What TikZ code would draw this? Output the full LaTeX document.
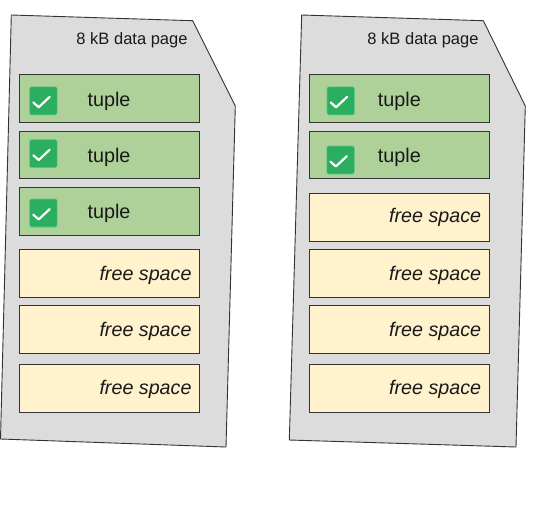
\documentclass[tikz,border=0pt]{standalone}
\usepackage{fontspec}
\setmainfont{Liberation Sans}
\usetikzlibrary{calc}
\definecolor{pagegray}{HTML}{DCDCDC}
\definecolor{tuplegreen}{HTML}{AED19A}
\definecolor{freeyellow}{HTML}{FFF2CC}
\definecolor{checkgreen}{HTML}{2BAE60}
\definecolor{checkborder}{HTML}{5CC98A}
\definecolor{edgegray}{HTML}{333333}
\tikzset{
  x=1pt, y=-1pt,
  pageshape/.style={fill=pagegray, draw=edgegray, line width=0.9pt, line join=miter},
  tuplebox/.style={fill=tuplegreen, draw=edgegray, line width=0.9pt, anchor=north west, inner sep=0pt},
  freebox/.style={fill=freeyellow, draw=edgegray, line width=0.9pt, anchor=north west, inner sep=0pt},
  checkbox/.style={fill=checkgreen, draw=checkborder, line width=0.6pt, rounded corners=1.5pt},
  checkmark/.style={draw=white, line width=2.2pt, line cap=round, line join=round},
  tupletext/.style={font=\fontsize{19.8}{22}\selectfont, text=black!90, inner sep=0pt, anchor=base west},
  freetext/.style={font=\fontsize{19.7}{22}\selectfont\itshape, text=black!90, inner sep=0pt, anchor=base east},
  pagetext/.style={font=\fontsize{16.5}{19}\selectfont, text=black!90, inner sep=0pt, anchor=base east}
}
\newcommand{\tickbox}[3]{% name, x, y (top-left)
  \node[checkbox, minimum width=27.5pt, minimum height=28pt, inner sep=0pt, anchor=north west] (#1) at (#2,#3) {};
  \draw[checkmark] ($(#1.north west)+(4,16)$) -- ($(#1.north west)+(9.4,20.7)$) -- ($(#1.north west)+(20.4,10.4)$);
}
\begin{document}
\begin{tikzpicture}
\useasboundingbox (0,0) rectangle (549,523);
\fill[white] (0,0) rectangle (549,523);
% left page
\draw[pageshape] (11.3,15) -- (192.7,20.7) -- (235.3,106) -- (226,447) -- (0.5,439) -- cycle;
\node[pagetext] (lp) at (187.7,44.2) {8 kB data page};
\node[tuplebox, minimum width=180.3pt, minimum height=48pt] (lt1) at (19,74.3) {};
\node[tuplebox, minimum width=180.3pt, minimum height=47.6pt] (lt2) at (19,130.7) {};
\node[tuplebox, minimum width=180.3pt, minimum height=47.7pt] (lt3) at (19,187.3) {};
\node[freebox, minimum width=180.3pt, minimum height=47.7pt] (lf1) at (19,249) {};
\node[freebox, minimum width=180.3pt, minimum height=47.7pt] (lf2) at (19,305.3) {};
\node[freebox, minimum width=180.3pt, minimum height=47.7pt] (lf3) at (19,364.3) {};
\tickbox{lc1}{29.3}{86.5}
\tickbox{lc2}{29.3}{139.3}
\tickbox{lc3}{29.3}{198.7}
\node[tupletext] (ltt1) at (87.3,106) {tuple};
\node[tupletext] (ltt2) at (87.3,162.3) {tuple};
\node[tupletext] (ltt3) at (87.3,218.3) {tuple};
\node[freetext] (lft1) at (191.7,280) {free space};
\node[freetext] (lft2) at (191.7,336) {free space};
\node[freetext] (lft3) at (191.7,394.3) {free space};
% right page
\draw[pageshape] (301.7,15) -- (483.3,20.7) -- (525.3,106) -- (516,447) -- (289.3,440) -- cycle;
\node[pagetext] (rp) at (478.7,44.2) {8 kB data page};
\node[tuplebox, minimum width=180pt, minimum height=48pt] (rt1) at (309.3,74.3) {};
\node[tuplebox, minimum width=180pt, minimum height=47.6pt] (rt2) at (309.3,130.7) {};
\node[freebox, minimum width=180pt, minimum height=48pt] (rf0) at (309.3,192.7) {};
\node[freebox, minimum width=180pt, minimum height=47.7pt] (rf1) at (309.3,249) {};
\node[freebox, minimum width=180pt, minimum height=47.7pt] (rf2) at (309.3,305.3) {};
\node[freebox, minimum width=180pt, minimum height=47.7pt] (rf3) at (309.3,364.3) {};
\tickbox{rc1}{326.7}{86.5}
\tickbox{rc2}{326.5}{145.7}
\node[tupletext] (rtt1) at (377.7,106) {tuple};
\node[tupletext] (rtt2) at (377.7,162.3) {tuple};
\node[freetext] (rft0) at (481.3,222.7) {free space};
\node[freetext] (rft1) at (481.3,280) {free space};
\node[freetext] (rft2) at (481.3,336) {free space};
\node[freetext] (rft3) at (481.3,394.3) {free space};
\end{tikzpicture}
\end{document}
